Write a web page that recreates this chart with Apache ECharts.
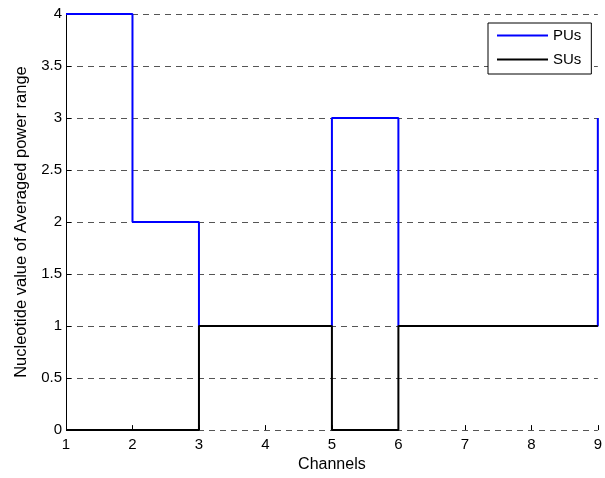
<!DOCTYPE html>
<html>
<head>
<meta charset="utf-8">
<script src="https://cdn.jsdelivr.net/npm/echarts@6/dist/echarts.min.js"></script>
<style>html,body{margin:0;padding:0;background:#fff}#c{width:605px;height:478px}</style>
</head>
<body>
<div id="c"></div>
<script>
var channels = [1, 2, 3, 4, 5, 6, 7, 8, 9];
var puValues = [4, 2, 1, 1, 3, 1, 1, 1, 3];
var suValues = [0, 0, 1, 1, 0, 1, 1, 1, 1];
var seriesNames = ['PUs', 'SUs'];
var xTitle = 'Channels';
var yTitle = 'Nucleotide value of Averaged power range';

function pairs(vals) { return channels.map(function (c, i) { return [c, vals[i]]; }); }

var font = 'Liberation Sans, Arial, sans-serif';
var chart = echarts.init(document.getElementById('c'));
chart.setOption({
  animation: false,
  backgroundColor: '#fff',
  grid: { left: 66, top: 14, width: 536, height: 420, containLabel: false },
  legend: {
    orient: 'vertical',
    left: 488, top: 23,
    data: seriesNames,
    icon: 'rect',
    backgroundColor: '#fff',
    borderColor: '#000', borderWidth: 1, borderRadius: 0,
    padding: [5, 10, 7, 9],
    itemWidth: 51, itemHeight: 2, itemGap: 9,
    textStyle: { fontFamily: font, fontSize: 15, color: '#000', padding: [0, 0, 0, 0] }
  },
  xAxis: {
    type: 'value', min: 1, max: 9, interval: 1,
    name: xTitle, nameLocation: 'middle', nameGap: 25,
    nameTextStyle: { fontFamily: font, fontSize: 16, color: '#000' },
    axisLine: { show: false },
    axisTick: { show: true, inside: true, length: 5, lineStyle: { color: '#000' } },
    axisLabel: { fontFamily: font, fontSize: 15, color: '#000', margin: 7 },
    splitLine: { show: false }
  },
  yAxis: {
    type: 'value', min: 0, max: 4, interval: 0.5,
    name: yTitle, nameLocation: 'middle', nameGap: 33,
    nameTextStyle: { fontFamily: font, fontSize: 16.5, color: '#000' },
    axisLine: { show: true, lineStyle: { color: '#000', width: 1 } },
    axisTick: { show: true, inside: true, length: 5, lineStyle: { color: '#000' } },
    axisLabel: { fontFamily: font, fontSize: 15, color: '#000', margin: 4 },
    splitLine: { show: true, lineStyle: { color: '#555', type: [6, 5], width: 1 } }
  },
  series: [
    {
      name: seriesNames[0], type: 'line', step: 'end', symbol: 'none', clip: false,
      data: pairs(puValues),
      lineStyle: { color: '#0000ff', width: 2 }, itemStyle: { color: '#0000ff' }, z: 2
    },
    {
      name: seriesNames[1], type: 'line', step: 'end', symbol: 'none', clip: false,
      data: pairs(suValues),
      lineStyle: { color: '#000', width: 2 }, itemStyle: { color: '#000' }, z: 3
    }
  ]
});
</script>
</body>
</html>
